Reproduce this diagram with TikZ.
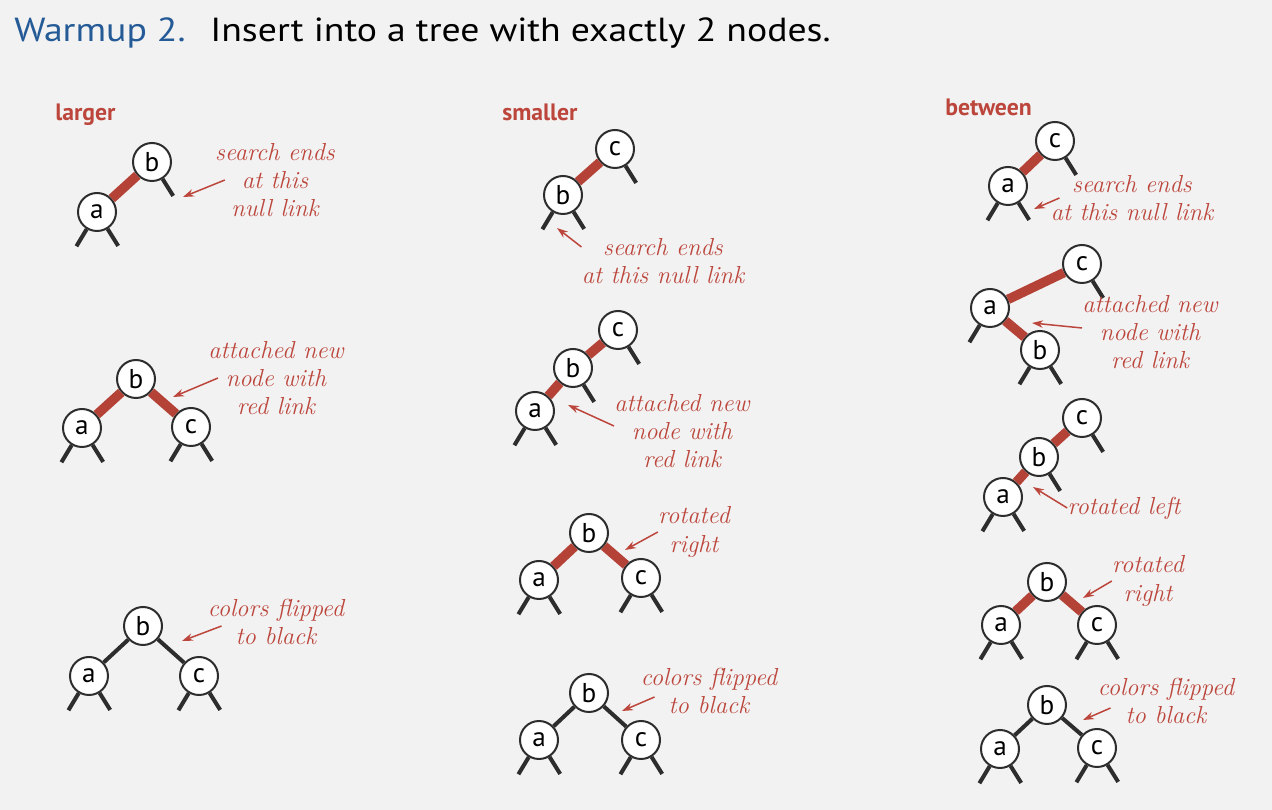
\documentclass[tikz,border=0pt]{standalone}
\usepackage{fontspec}
\setsansfont{PT Sans}
\newfontfamily\titlefont[FakeStretch=1.13]{PT Sans}
\usetikzlibrary{arrows.meta}
\definecolor{linkred}{RGB}{181,66,54}
\definecolor{notered}{RGB}{188,70,60}
\definecolor{titleblue}{RGB}{36,90,150}
\definecolor{bggray}{RGB}{242,242,242}
\definecolor{linkgray}{RGB}{45,45,45}
\begin{document}
\begin{tikzpicture}[x=0.02cm, y=-0.02cm,
    treenode/.style={circle, draw=linkgray, line width=0.04cm, fill=white, minimum size=0.76cm, inner sep=0pt, font=\sffamily\fontsize{15.5}{15.5}\selectfont},
    redlink/.style={linkred, line width=0.19cm},
    blacklink/.style={linkgray, line width=0.08cm},
    nulllink/.style={linkgray, line width=0.08cm},
    note/.style={text=notered, align=center, inner sep=0pt, font=\itshape\fontsize{14}{16}\selectfont},
    notearrow/.style={notered, line width=0.03cm, -{Stealth[length=0.22cm, width=0.15cm]}},
    casename/.style={text=notered, anchor=base west, inner sep=0pt, font=\sffamily\bfseries\fontsize{13.5}{14}\selectfont}]
        \def\nullleft#1{\path (#1) ++(121:40) coordinate (#1l); \draw[nulllink] (#1) -- (#1l);}
        \def\nullright#1{\path (#1) ++(58:40) coordinate (#1r); \draw[nulllink] (#1) -- (#1r);}

        \fill[bggray] (0,0) rectangle (1272,810);
        \useasboundingbox (0,0) rectangle (1272,810);

        \node[anchor=base west, inner sep=0pt, text=titleblue, font=\titlefont\fontsize{19}{20}\selectfont] (title) at (14,42) {Warmup 2.};
        \node[anchor=base west, inner sep=0pt, font=\titlefont\fontsize{19}{20}\selectfont] (task) at (210,42) {Insert into a tree with exactly 2 nodes.};

        \node[casename] (larger) at (55,121) {larger};
        \node[casename] (smaller) at (502,121) {smaller};
        \node[casename] (between) at (945,116) {between};

        % larger
        \node[treenode] (b1) at (152,162) {b};
        \node[treenode] (a1) at (97,212) {a};
        \draw[redlink] (a1) -- (b1);
        \nullleft{a1} \nullright{a1} \nullright{b1}
        \node[note] (lab1) at (275,180) {search ends\\at this\\null link};
        \coordinate (t1) at (183,197);
        \draw[notearrow] ([xshift=0.2cm]lab1.west) -- (t1);

        \node[treenode] (b2) at (136,379) {b};
        \node[treenode] (a2) at (82,428) {a};
        \node[treenode] (c2) at (191,427) {c};
        \draw[redlink] (a2) -- (b2);
        \draw[redlink] (b2) -- (c2);
        \nullleft{a2} \nullright{a2} \nullleft{c2} \nullright{c2}
        \node[note] (lab2) at (276,378) {attached new\\node with\\red link};
        \coordinate (t2) at (173,397);
        \draw[notearrow] ([xshift=0.2cm]lab2.west) -- (t2);

        \node[treenode] (b3) at (143,626) {b};
        \node[treenode] (a3) at (89,676) {a};
        \node[treenode] (c3) at (199,676) {c};
        \draw[blacklink] (a3) -- (b3);
        \draw[blacklink] (b3) -- (c3);
        \nullleft{a3} \nullright{a3} \nullleft{c3} \nullright{c3}
        \node[note] (lab3) at (276,622) {colors flipped\\to black};
        \coordinate (t3) at (182,641);
        \draw[notearrow] ([xshift=0.28cm, yshift=-0.08cm]lab3.west) -- (t3);

        % smaller
        \node[treenode] (c4) at (615,149) {c};
        \node[treenode] (b4) at (563,195) {b};
        \draw[redlink] (b4) -- (c4);
        \nullright{c4} \nullleft{b4} \nullright{b4}
        \node[note] (lab4) at (663,261) {search ends\\at this null link};
        \coordinate (t4) at (557,228);
        \draw[notearrow] ([yshift=0.28cm]lab4.west) -- (t4);

        \node[treenode] (c5) at (618,330) {c};
        \node[treenode] (b5) at (573,368) {b};
        \node[treenode] (a5) at (535,411) {a};
        \draw[redlink] (a5) -- (b5);
        \draw[redlink] (b5) -- (c5);
        \nullright{c5} \nullright{b5} \nullleft{a5} \nullright{a5}
        \node[note] (lab5) at (682,431) {attached new\\node with\\red link};
        \coordinate (t5) at (568,405);
        \draw[notearrow] ([yshift=0.1cm]lab5.west) -- (t5);

        \node[treenode] (b6) at (589,533) {b};
        \node[treenode] (a6) at (539,580) {a};
        \node[treenode] (c6) at (641,578) {c};
        \draw[redlink] (a6) -- (b6);
        \draw[redlink] (b6) -- (c6);
        \nullleft{a6} \nullright{a6} \nullleft{c6} \nullright{c6}
        \node[note] (lab6) at (694,532) {rotated\\right};
        \coordinate (t6) at (625,550);
        \draw[notearrow] (lab6.west) -- (t6);

        \node[treenode] (b7) at (589,693) {b};
        \node[treenode] (a7) at (539,740) {a};
        \node[treenode] (c7) at (641,740) {c};
        \draw[blacklink] (a7) -- (b7);
        \draw[blacklink] (b7) -- (c7);
        \nullleft{a7} \nullright{a7} \nullleft{c7} \nullright{c7}
        \node[note] (lab7) at (709,691) {colors flipped\\to black};
        \coordinate (t7) at (622,711);
        \draw[notearrow] ([xshift=0.28cm, yshift=-0.12cm]lab7.west) -- (t7);

        % between
        \node[treenode] (c8) at (1055,141) {c};
        \node[treenode] (a8) at (1008,186) {a};
        \draw[redlink] (a8) -- (c8);
        \nullright{c8} \nullleft{a8} \nullright{a8}
        \node[note] (lab8) at (1132,198) {search ends\\at this null link};
        \coordinate (t8) at (1034,209);
        \draw[notearrow] ([xshift=0.18cm]lab8.west) -- (t8);

        \node[treenode] (c9) at (1082,264) {c};
        \node[treenode] (a9) at (990,308) {a};
        \node[treenode] (b9) at (1040,350) {b};
        \draw[redlink] (a9) -- (c9);
        \draw[redlink] (a9) -- (b9);
        \nullright{c9} \nullleft{a9} \nullleft{b9} \nullright{b9}
        \node[note] (lab9) at (1150,332) {attached new\\node with\\red link};
        \coordinate (t9) at (1032,323);
        \draw[notearrow] ([yshift=0.08cm]lab9.west) -- (t9);

        \node[treenode] (c10) at (1082,418) {c};
        \node[treenode] (b10) at (1039,457) {b};
        \node[treenode] (a10) at (1003,497) {a};
        \draw[redlink] (a10) -- (b10);
        \draw[redlink] (b10) -- (c10);
        \nullright{c10} \nullright{b10} \nullleft{a10} \nullright{a10}
        \node[note] (lab10) at (1124,508) {rotated left};
        \coordinate (t10) at (1033,487);
        \draw[notearrow] (lab10.west) -- (t10);

        \node[treenode] (b11) at (1047,582) {b};
        \node[treenode] (a11) at (1001,625) {a};
        \node[treenode] (c11) at (1097,625) {c};
        \draw[redlink] (a11) -- (b11);
        \draw[redlink] (b11) -- (c11);
        \nullleft{a11} \nullright{a11} \nullleft{c11} \nullright{c11}
        \node[note] (lab11) at (1148,581) {rotated\\right};
        \coordinate (t11) at (1083,598);
        \draw[notearrow] (lab11.west) -- (t11);

        \node[treenode] (b12) at (1047,705) {b};
        \node[treenode] (a12) at (1000,749) {a};
        \node[treenode] (c12) at (1097,748) {c};
        \draw[blacklink] (a12) -- (b12);
        \draw[blacklink] (b12) -- (c12);
        \nullleft{a12} \nullright{a12} \nullleft{c12} \nullright{c12}
        \node[note] (lab12) at (1166,701) {colors flipped\\to black};
        \coordinate (t12) at (1083,720);
        \draw[notearrow] ([xshift=0.26cm, yshift=-0.14cm]lab12.west) -- (t12);
    \end{tikzpicture}
\end{document}
